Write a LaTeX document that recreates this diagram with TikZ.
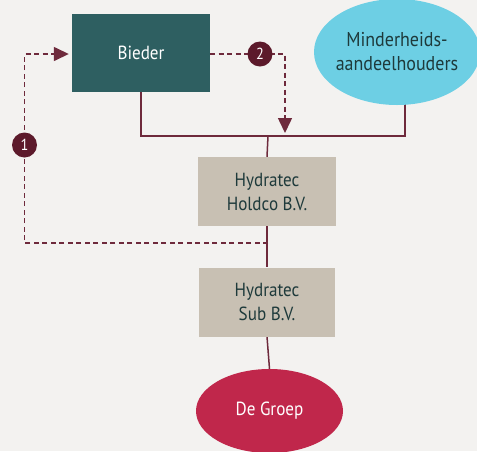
\documentclass[tikz,border=0pt]{standalone}
\usepackage{fontspec}
\setmainfont{PT Sans}[FakeStretch=0.9]
\usetikzlibrary{shapes.geometric,arrows.meta,backgrounds}
\definecolor{bgc}{HTML}{F3F2F0}
\definecolor{tealbox}{HTML}{2E5F61}
\definecolor{cyanell}{HTML}{6DCFE4}
\definecolor{tanbox}{HTML}{C8C0B3}
\definecolor{groepc}{HTML}{C0274B}
\definecolor{txtdark}{HTML}{1E3A3B}
\definecolor{linec}{HTML}{6E2A3C}
\definecolor{markc}{HTML}{5C1A2B}
\tikzset{
  box/.style={rectangle, inner sep=0pt, align=center, font=\fontsize{19}{24}\selectfont},
  ell/.style={ellipse, inner sep=0pt, align=center, font=\fontsize{19}{24}\selectfont},
  conn/.style={draw=linec, line width=1.5pt},
  dashconn/.style={draw=linec, line width=1.5pt, dash pattern=on 5pt off 3.5pt},
  tip/.style={-{Triangle[length=15pt,width=14pt]}, shorten >=3pt},
  numcirc/.style={circle, fill=markc, text=white, minimum size=25pt, inner sep=0pt, font=\fontsize{16}{16}\selectfont}
}
\begin{document}
\begin{tikzpicture}[x=1pt,y=-1pt]
\useasboundingbox (0,0) rectangle (477,451);
\node[box, fill=tealbox, text=white, minimum width=138pt, minimum height=78pt] (bieder) at (141,53) {Bieder};
\node[ell, fill=cyanell, text=txtdark, inner xsep=-10pt, minimum width=166pt, minimum height=106pt, font=\fontsize{20}{24}\selectfont] (minder) at (397,52) {Minderheids-\\aandeelhouders};
\node[box, fill=tanbox, text=txtdark, minimum width=138pt, minimum height=69pt] (holdco) at (267,191.5) {Hydratec\\Holdco B.V.};
\node[box, fill=tanbox, text=txtdark, minimum width=136pt, minimum height=69pt] (sub) at (267,302) {Hydratec\\Sub B.V.};
\node[ell, fill=groepc, text=white, minimum width=147pt, minimum height=84pt] (groep) at (269.5,411) {De Groep};
\coordinate (j) at (268,136);
\coordinate (mr) at (405,90);
\coordinate (k) at (268,243);
\coordinate (c1) at (24.5,54);
\coordinate (c2) at (285,54);
\coordinate (c2end) at (285,136);
\begin{scope}[on background layer]
\fill[bgc] (0,0) rectangle (477,451);
\draw[conn] (bieder.south) |- (j);
\draw[conn] (mr) |- (j);
\draw[conn] (j) -- (holdco.north);
\draw[conn] (holdco.south) -- (sub.north);
\draw[conn] (sub.south) -- (groep.north);
\end{scope}
\draw[dashconn, tip] (k) -| (c1) -- (bieder.west |- c1);
\draw[dashconn, tip] (bieder.east |- c2) -- (c2) -- (c2end);
\node[numcirc] (n1) at (24.5,145) {1};
\node[numcirc] (n2) at (260,54) {2};
\end{tikzpicture}
\end{document}
